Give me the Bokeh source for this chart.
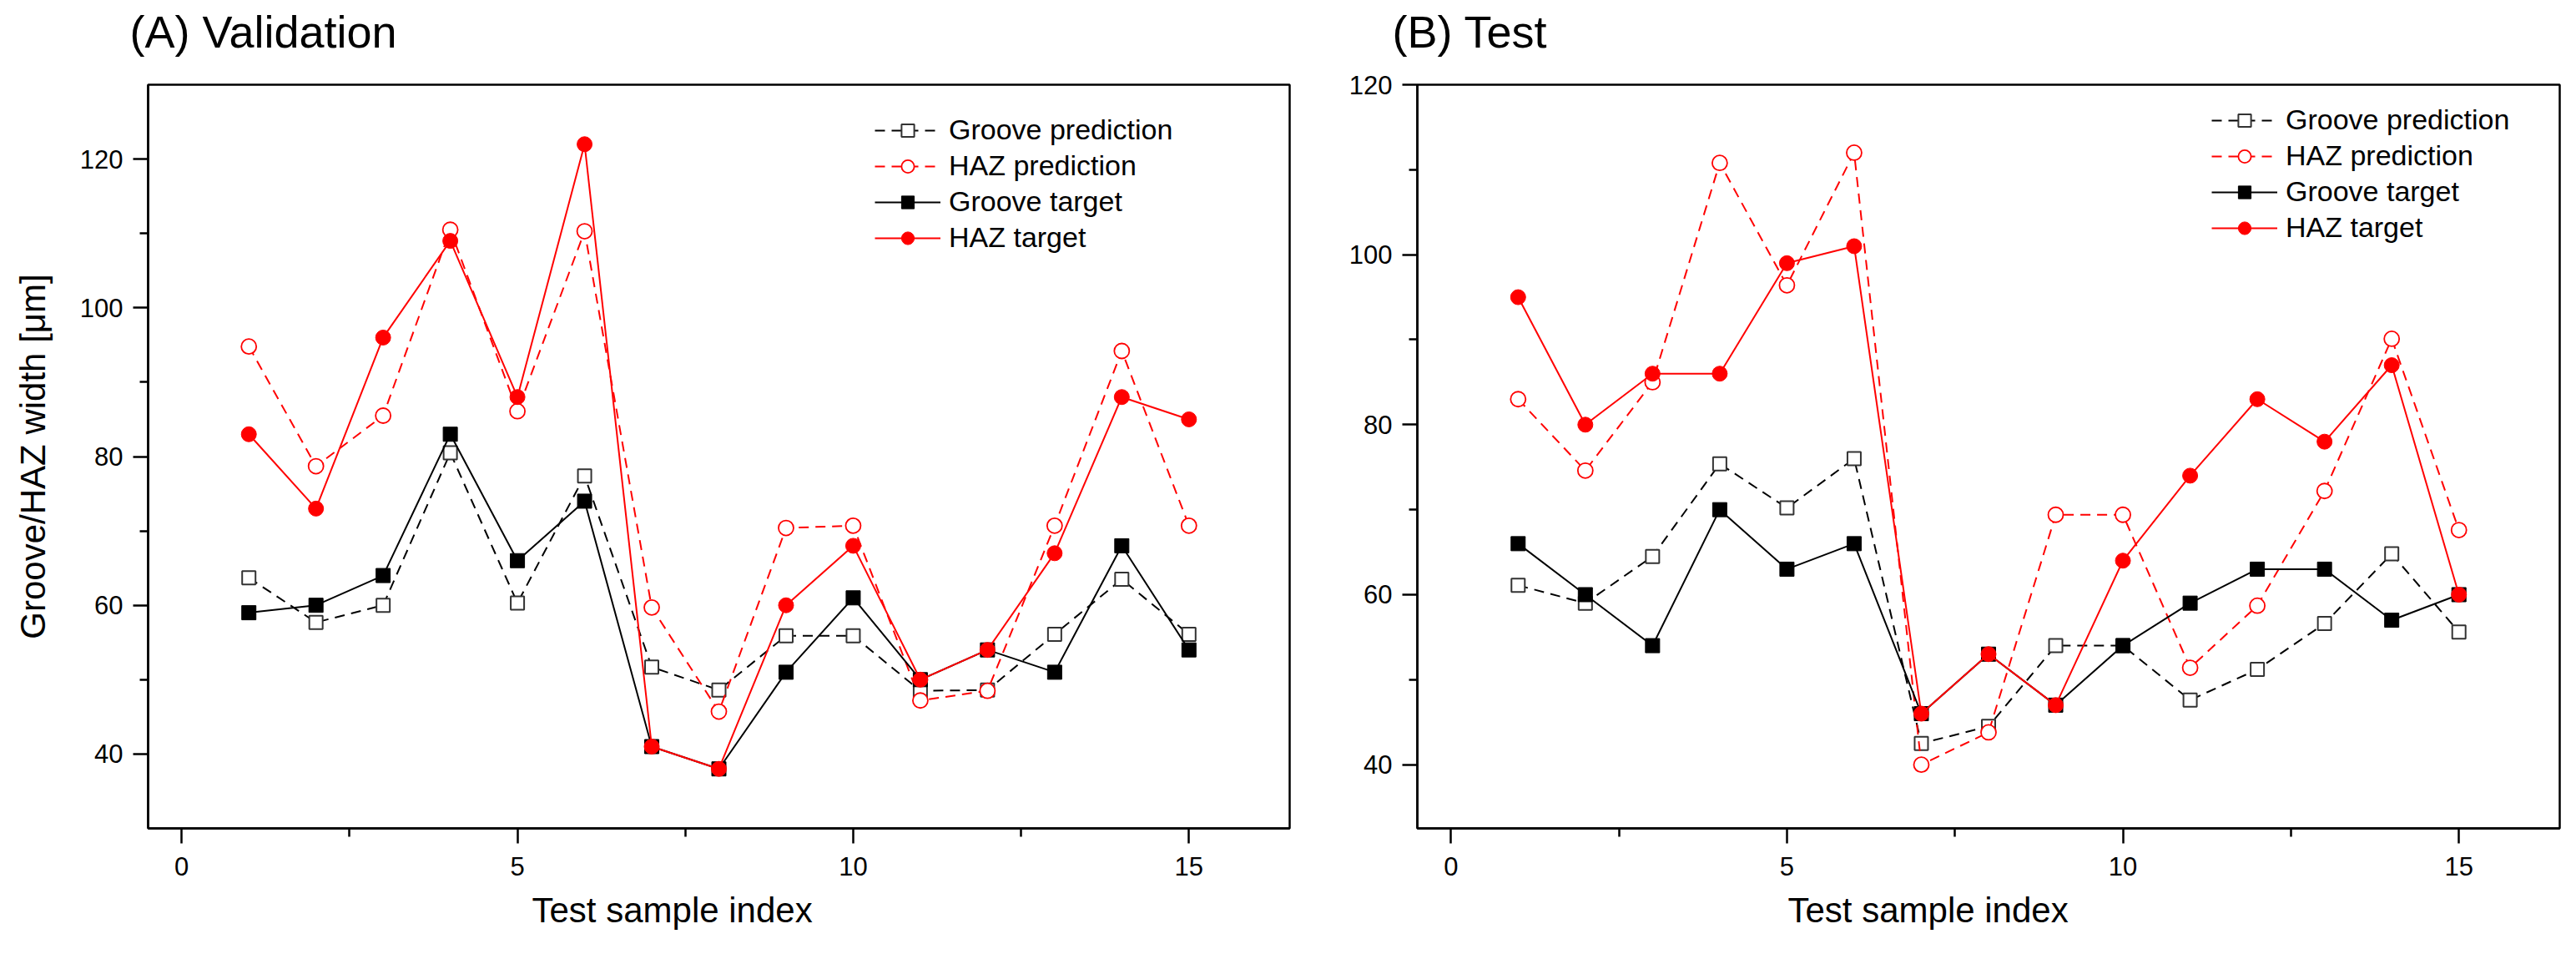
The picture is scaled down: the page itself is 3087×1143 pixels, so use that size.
from bokeh.plotting import figure
from bokeh.layouts import row
from bokeh.models import Range1d, FixedTicker, Legend, LegendItem, Title
from bokeh.embed import file_html
from bokeh.resources import INLINE

FONT = "Liberation Sans"

sample_index = list(range(1, 16))

val_groove_pred = [63.7, 57.7, 60.0, 80.5, 60.3, 77.4, 51.7, 48.6, 55.9, 55.9, 48.5, 48.6, 56.1, 63.5, 56.1]
val_haz_pred = [94.8, 78.7, 85.5, 110.5, 86.1, 110.3, 59.7, 45.7, 70.4, 70.7, 47.2, 48.5, 70.7, 94.2, 70.7]
val_groove_target = [59, 60, 64, 83, 66, 74, 41, 38, 51, 61, 50, 54, 51, 68, 54]
val_haz_target = [83, 73, 96, 109, 88, 122, 41, 38, 60, 68, 50, 54, 67, 88, 85]

test_groove_pred = [61.1, 59.0, 64.5, 75.4, 70.2, 76.0, 42.5, 44.5, 54.0, 54.0, 47.6, 51.2, 56.6, 64.8, 55.6]
test_haz_pred = [83.0, 74.6, 85.0, 110.8, 96.4, 112.0, 40.0, 43.8, 69.4, 69.4, 51.4, 58.7, 72.2, 90.1, 67.6]
test_groove_target = [66, 60, 54, 70, 63, 66, 46, 53, 47, 54, 59, 63, 63, 57, 60]
test_haz_target = [95, 80, 86, 86, 99, 101, 46, 53, 47, 64, 74, 83, 78, 87, 60]

x_ticks = [0, 5, 10, 15]
x_minor = [2.5, 7.5, 12.5]
y_ticks = [40, 60, 80, 100, 120]
y_minor = [50, 70, 90, 110]

series_labels = ["Groove prediction", "HAZ prediction", "Groove target", "HAZ target"]

RED = "#FF0000"


def make_panel(title, groove_pred, haz_pred, groove_target, haz_target, y_range,
               width, border_left, border_right, title_offset, xtitle_offset,
               legend_loc, show_ylabel):
    p = figure(width=width, height=1143, output_backend="svg", toolbar_location=None,
               x_range=Range1d(-0.5, 16.5), y_range=Range1d(*y_range),
               min_border_left=border_left, min_border_right=border_right,
               min_border_top=101, min_border_bottom=151)
    p.background_fill_color = "white"
    p.border_fill_color = "white"
    p.grid.visible = False
    p.outline_line_color = "black"
    p.outline_line_width = 2.5

    p.title = Title(text=title, text_font=FONT, text_font_size="54px",
                    text_color="black", vertical_align="top",
                    text_font_style="normal", align="left", offset=title_offset,
                    standoff=0)
    p.add_layout(Title(text=" ", text_font_size="2px", standoff=28), "above")

    for ax in (p.xaxis[0], p.yaxis[0]):
        ax.axis_line_width = 2.5
        ax.axis_line_color = "black"
        ax.major_tick_line_width = 2.5
        ax.minor_tick_line_width = 2.5
        ax.major_tick_in = 0
        ax.major_tick_out = 18
        ax.minor_tick_in = 0
        ax.minor_tick_out = 10
        ax.major_label_text_font = FONT
        ax.major_label_text_font_size = "31px"
        ax.major_label_text_color = "black"
        ax.axis_label_text_font = FONT
        ax.axis_label_text_font_style = "normal"
        ax.axis_label_text_font_size = "42px"
        ax.axis_label_text_color = "black"

    p.xaxis[0].major_label_standoff = 16
    p.yaxis[0].major_label_standoff = 12
    p.xaxis[0].ticker = FixedTicker(ticks=x_ticks, minor_ticks=x_minor)
    p.yaxis[0].ticker = FixedTicker(ticks=y_ticks, minor_ticks=y_minor)
    if show_ylabel:
        p.yaxis[0].axis_label = "Groove/HAZ width [\u03bcm]"
        p.yaxis[0].axis_label_standoff = 30

    p.add_layout(Title(text="Test sample index", text_font=FONT, text_font_size="42px",
                       text_color="black",
                       text_font_style="normal", align="left", offset=xtitle_offset,
                       vertical_align="top", standoff=30), "below")

    dash = "12 8"
    r1l = p.line(sample_index, groove_pred, line_color="black", line_width=2, line_dash=dash)
    r1s = p.scatter(sample_index, groove_pred, marker="square", size=16,
                    fill_color="white", line_color="#333333", line_width=2)
    r2l = p.line(sample_index, haz_pred, line_color=RED, line_width=2, line_dash=dash)
    r2s = p.scatter(sample_index, haz_pred, marker="circle", size=18,
                    fill_color="white", line_color=RED, line_width=1.8)
    r3l = p.line(sample_index, groove_target, line_color="black", line_width=2)
    r3s = p.scatter(sample_index, groove_target, marker="square", size=17,
                    fill_color="black", line_color="black", line_width=1)
    r4l = p.line(sample_index, haz_target, line_color=RED, line_width=2)
    r4s = p.scatter(sample_index, haz_target, marker="circle", size=18,
                    fill_color=RED, line_color=RED, line_width=1)

    items = [LegendItem(label=series_labels[0], renderers=[r1l, r1s]),
             LegendItem(label=series_labels[1], renderers=[r2l, r2s]),
             LegendItem(label=series_labels[2], renderers=[r3l, r3s]),
             LegendItem(label=series_labels[3], renderers=[r4l, r4s])]
    legend = Legend(items=items, location=legend_loc, border_line_color=None,
                    background_fill_alpha=0, padding=0, margin=0,
                    glyph_width=79, glyph_height=38, label_height=38, spacing=4,
                    label_standoff=10, label_text_font=FONT,
                    label_text_color="black",
                    label_text_font_size="34px")
    p.add_layout(legend, "center")
    return p


p1 = make_panel("(A) Validation", val_groove_pred, val_haz_pred, val_groove_target,
                val_haz_target, (30, 130), 1580, 177, 35, -22, 460, (871, 688), True)
p2 = make_panel("(B) Test", test_groove_pred, test_haz_pred, test_groove_target,
                test_haz_target, (32.5, 120), 1507, 118, 20, -30, 444, (952, 700), False)

layout = row(p1, p2, spacing=0)
open("out.html", "w").write(file_html(layout, INLINE))
